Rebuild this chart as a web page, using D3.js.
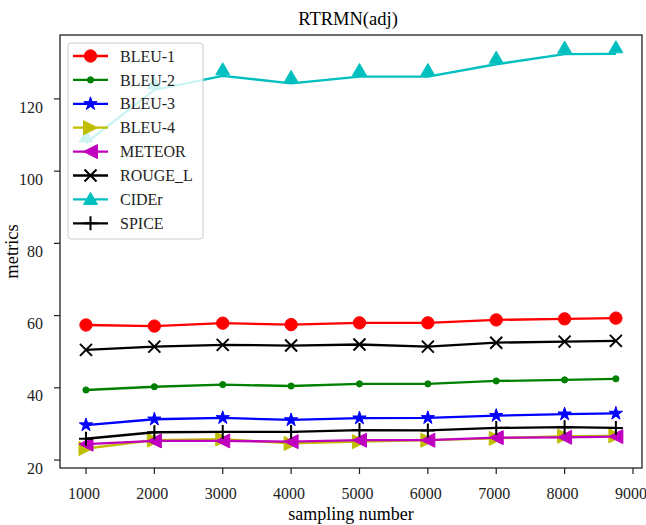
<!DOCTYPE html>
<html lang="en">
<head>
<meta charset="utf-8">
<title>RTRMN(adj)</title>
<script src="https://cdn.jsdelivr.net/npm/d3@7"></script>
<style>
  body { margin: 0; background: #fff; }
  text { font-family: "Liberation Serif", "DejaVu Serif", serif; }
</style>
</head>
<body>
<script>

// Data
var samplingNumbers = [1000, 2000, 3000, 4000, 5000, 6000, 7000, 8000, 8750];
var bleu1  = [57.4, 57.1, 57.9, 57.5, 58.0, 58.0, 58.8, 59.1, 59.3];
var bleu2  = [39.4, 40.3, 40.9, 40.5, 41.1, 41.1, 41.9, 42.2, 42.5];
var bleu3  = [29.7, 31.3, 31.7, 31.1, 31.6, 31.7, 32.3, 32.7, 32.9];
var bleu4  = [23.2, 25.5, 25.8, 24.6, 25.1, 25.5, 26.0, 26.6, 26.7];
var meteor = [24.4, 25.3, 25.3, 25.1, 25.5, 25.5, 26.2, 26.3, 26.5];
var rougeL = [50.5, 51.4, 51.9, 51.7, 52.0, 51.4, 52.5, 52.8, 53.0];
var cider  = [107.8, 122.5, 126.4, 124.3, 126.2, 126.2, 129.6, 132.4, 132.5];
var spice  = [25.9, 27.7, 27.8, 27.8, 28.3, 28.2, 28.9, 29.1, 28.9];

var xTicks = [1000, 2000, 3000, 4000, 5000, 6000, 7000, 8000, 9000];
var yTicks = [20, 40, 60, 80, 100, 120];

var series = [
  {name: "BLEU-1",  values: bleu1,  color: "#ff0000", marker: "circle"},
  {name: "BLEU-2",  values: bleu2,  color: "#008000", marker: "dot"},
  {name: "BLEU-3",  values: bleu3,  color: "#0000ff", marker: "star"},
  {name: "BLEU-4",  values: bleu4,  color: "#bfbf00", marker: "right"},
  {name: "METEOR",  values: meteor, color: "#bf00bf", marker: "left"},
  {name: "ROUGE_L", values: rougeL, color: "#000000", marker: "x"},
  {name: "CIDEr",   values: cider,  color: "#00bfbf", marker: "up"},
  {name: "SPICE",   values: spice,  color: "#000000", marker: "plus"}
];

var w = 646, h = 525;
var plotLeft = 60, plotRight = 642, plotTop = 35, plotBottom = 468;

var x = d3.scaleLinear().domain([620, 9132]).range([plotLeft, plotRight]);
var y = d3.scaleLinear().domain([17.8, 137.7]).range([plotBottom, plotTop]);

var svg = d3.select("body").append("svg")
            .attr("width", w)
            .attr("height", h);

// marker shapes, drawn around (0,0)
function markerPath(type) {
  switch (type) {
    case "circle": return d3.symbol(d3.symbolCircle, 120)();
    case "dot":    return d3.symbol(d3.symbolCircle, 30)();
    case "star":   return d3.symbol(d3.symbolStar, 55)();
    case "right":  return "M7,0L-7,-7L-7,7Z";
    case "left":   return "M-7,0L7,-7L7,7Z";
    case "up":     return "M0,-13L7,-1L-7,-1Z";
    case "x":      return "M-6,-6L6,6M-6,6L6,-6";
    case "plus":   return "M-7,0L7,0M0,-7L0,7";
  }
}

function drawMarker(g, type, color) {
  var p = g.append("path").attr("d", markerPath(type));
  if (type === "x" || type === "plus") {
    p.attr("fill", "none").attr("stroke", color).attr("stroke-width", 2);
  } else {
    p.attr("fill", color).attr("stroke", color).attr("stroke-width", 1);
  }
}

var line = d3.line()
  .x(function(d, i) { return x(samplingNumbers[i]); })
  .y(function(d) { return y(d); });

var plot = svg.append("g");

series.forEach(function(s) {
  plot.append("path")
      .datum(s.values)
      .attr("d", line)
      .attr("fill", "none")
      .attr("stroke", s.color)
      .attr("stroke-width", 2.3)
      .attr("stroke-linejoin", "round");

  s.values.forEach(function(v, i) {
    var g = plot.append("g")
                .attr("transform", "translate(" + x(samplingNumbers[i]) + "," + y(v) + ")");
    drawMarker(g, s.marker, s.color);
  });
});

// frame
svg.append("rect")
   .attr("x", plotLeft).attr("y", plotTop)
   .attr("width", plotRight - plotLeft).attr("height", plotBottom - plotTop)
   .attr("fill", "none")
   .attr("stroke", "#222")
   .attr("stroke-width", 1.3);

// y ticks (labels sit a little below their ticks, as in the reference)
svg.selectAll(".ytick")
   .data(yTicks)
   .enter()
   .append("line")
   .attr("x1", plotLeft - 6).attr("x2", plotLeft)
   .attr("y1", function(d) { return y(d); })
   .attr("y2", function(d) { return y(d); })
   .attr("stroke", "#222").attr("stroke-width", 1.2);

svg.selectAll(".ylabel")
   .data(yTicks)
   .enter()
   .append("text")
   .text(function(d) { return d; })
   .attr("x", 43)
   .attr("y", function(d) { return y(d) + 8; })
   .attr("dy", "0.35em")
   .attr("text-anchor", "end")
   .attr("font-size", "16px")
   .attr("fill", "#222");

// x ticks
svg.selectAll(".xtick")
   .data(xTicks)
   .enter()
   .append("line")
   .attr("x1", function(d) { return x(d); })
   .attr("x2", function(d) { return x(d); })
   .attr("y1", plotBottom).attr("y2", plotBottom + 6)
   .attr("stroke", "#222").attr("stroke-width", 1.2);

svg.selectAll(".xlabel")
   .data(xTicks)
   .enter()
   .append("text")
   .text(function(d) { return d; })
   .attr("x", function(d) { return x(d) - 2; })
   .attr("y", 493)
   .attr("dy", "0.35em")
   .attr("text-anchor", "middle")
   .attr("font-size", "16px")
   .attr("fill", "#222");

// titles
svg.append("text")
   .text("RTRMN(adj)")
   .attr("x", 348).attr("y", 25)
   .attr("text-anchor", "middle")
   .attr("font-size", "18.5px");

svg.append("text")
   .text("sampling number")
   .attr("x", (plotLeft + plotRight) / 2).attr("y", 520)
   .attr("text-anchor", "middle")
   .attr("font-size", "18px");

svg.append("text")
   .text("metrics")
   .attr("transform", "translate(18," + ((plotTop + plotBottom) / 2) + ") rotate(-90)")
   .attr("text-anchor", "middle")
   .attr("font-size", "18.5px");

// legend
var legend = svg.append("g");
legend.append("rect")
      .attr("x", 68).attr("y", 43)
      .attr("width", 135).attr("height", 196)
      .attr("rx", 3)
      .attr("fill", "#fff").attr("fill-opacity", 0.8)
      .attr("stroke", "#ccc");

series.forEach(function(s, i) {
  var cy = 56 + i * 23.9;
  legend.append("line")
        .attr("x1", 73).attr("x2", 108)
        .attr("y1", cy).attr("y2", cy)
        .attr("stroke", s.color).attr("stroke-width", 2.3);
  var g = legend.append("g").attr("transform", "translate(90.5," + cy + ")");
  if (s.marker === "up") g.attr("transform", "translate(90.5," + (cy + 6) + ")");
  drawMarker(g, s.marker, s.color);
  legend.append("text")
        .text(s.name)
        .attr("x", 120).attr("y", cy)
        .attr("dy", "0.35em")
        .attr("font-size", "16px")
        .attr("fill", "#222");
});

</script>
</body>
</html>
